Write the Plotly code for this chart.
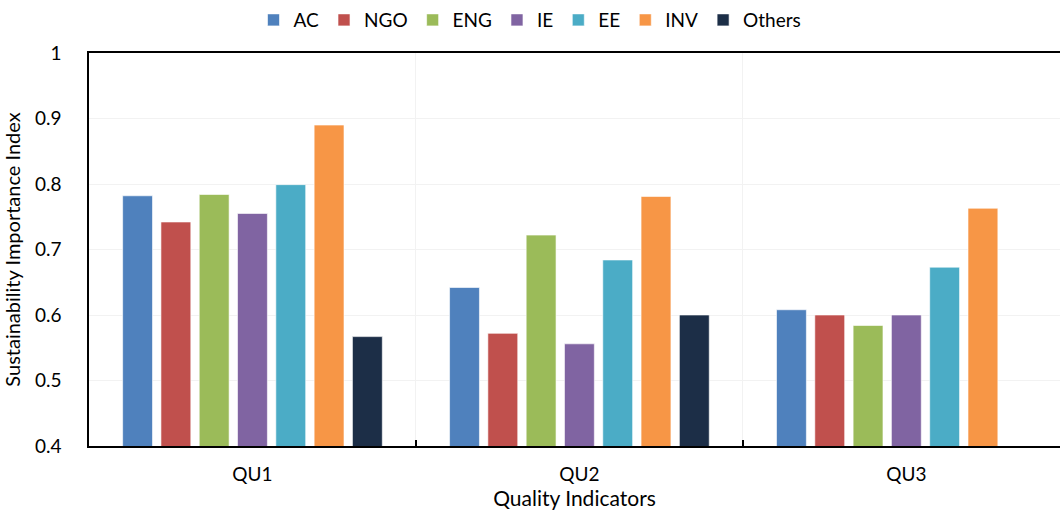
import plotly.graph_objects as go

categories = ["QU1", "QU2", "QU3"]
series_names = ["AC", "NGO", "ENG", "IE", "EE", "INV", "Others"]
ac = [0.782, 0.642, 0.608]
ngo = [0.742, 0.572, 0.600]
eng = [0.784, 0.722, 0.584]
ie = [0.755, 0.556, 0.600]
ee = [0.799, 0.684, 0.673]
inv = [0.890, 0.781, 0.763]
others = [0.567, 0.600, None]
colors = ["#4F81BD", "#C0504D", "#9BBB59", "#8064A2", "#4BACC6", "#F79646", "#1C2E47"]
ytick_vals = [0.4, 0.5, 0.6, 0.7, 0.8, 0.9, 1.0]
ytick_text = ["0.4", "0.5", "0.6", "0.7", "0.8", "0.9", "1"]

FONT = "Lato"
values = [ac, ngo, eng, ie, ee, inv, others]

fig = go.Figure()
for name, vals, col in zip(series_names, values, colors):
    fig.add_trace(go.Bar(
        x=categories, y=vals, name=name,
        marker=dict(color=col, line=dict(color="rgba(255,255,255,0.6)", width=1)),
    ))

fig.update_layout(
    width=1060, height=514,
    margin=dict(l=89, r=0, t=53, b=68, autoexpand=False),
    paper_bgcolor="white", plot_bgcolor="white",
    barmode="group", bargap=0.18, bargroupgap=0.22,
    font=dict(family=FONT, size=19, color="#000000"),
    legend=dict(orientation="h", x=0.5, xanchor="center", xref="container",
                y=0.998, yanchor="top", yref="container", font=dict(size=19),
                traceorder="normal"),
    showlegend=True,
)

fig.update_xaxes(
    type="category", range=[-0.5, 2.47], automargin=False,
    showline=True, linecolor="#000000", linewidth=2, mirror=True,
    showgrid=True, gridcolor="#f2f2f2", gridwidth=1,
    tickson="boundaries", ticks="inside", ticklen=6, tickcolor="#000000", tickwidth=1.5,
    tickfont=dict(size=19), ticklabelstandoff=10,
    title=dict(text="Quality Indicators", font=dict(size=21), standoff=8),
)
fig.update_yaxes(
    range=[0.4, 1.0], tickvals=ytick_vals, ticktext=ytick_text, automargin=False,
    showline=True, linecolor="#000000", linewidth=1.5, mirror=False,
    showgrid=True, gridcolor="#f2f2f2", gridwidth=1,
    ticks="", ticklabelstandoff=22,
    tickfont=dict(size=19), zeroline=False,
    title=dict(text="Sustainability Importance Index", font=dict(size=20), standoff=10),
)

fig.write_html("out.html", config={"displayModeBar": False},
               post_script="document.body.style.margin='0';")
